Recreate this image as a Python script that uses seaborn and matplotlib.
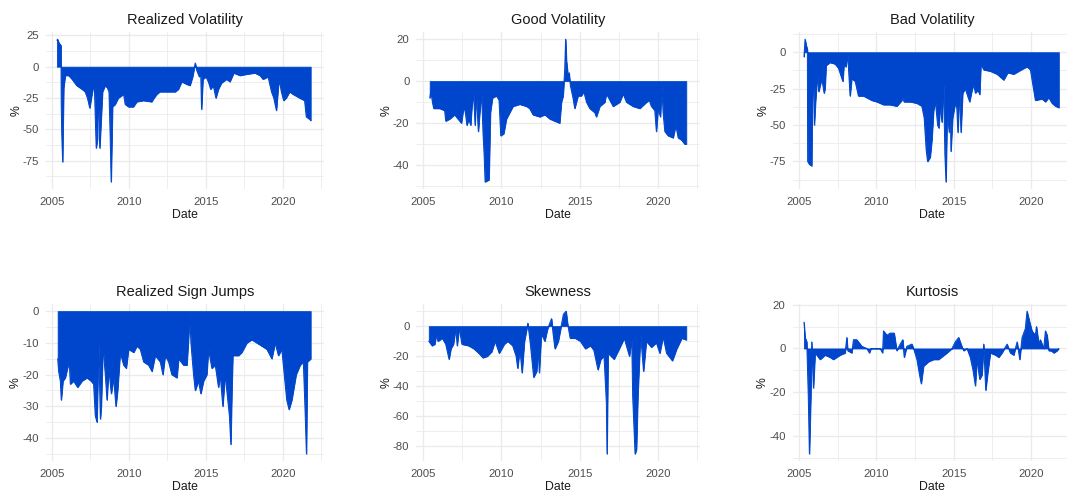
import matplotlib
matplotlib.use("Agg")
import matplotlib.pyplot as plt
import seaborn as sns
import numpy as np

# colours
fill_colour = '#0046CC'
grid_colour = '#EBEBEB'
text_colour = '#1A1A1A'
tick_colour = '#4D4D4D'

# ---- data (decimal year, %) ----
rv_date = [2005.32, 2005.36, 2005.45, 2005.58, 2005.60, 2005.63, 2005.69, 2005.72, 2005.76, 2005.86,
           2006.08, 2006.30, 2006.60, 2006.95, 2007.15, 2007.30, 2007.45, 2007.55, 2007.65, 2007.75,
           2007.87, 2007.95, 2007.97, 2008.10, 2008.18, 2008.28, 2008.45, 2008.60, 2008.70, 2008.78,
           2008.84, 2008.93, 2009.10, 2009.30, 2009.65, 2009.75, 2009.96, 2010.28, 2010.50, 2010.93,
           2011.47, 2011.62, 2011.80, 2012.00, 2012.45, 2013.00, 2013.20, 2013.42, 2013.74, 2013.96,
           2014.13, 2014.30, 2014.40, 2014.56, 2014.66, 2014.71, 2014.80, 2015.00, 2015.15, 2015.30,
           2015.47, 2015.64, 2015.80, 2016.00, 2016.33, 2016.55, 2016.80, 2017.20, 2017.63, 2018.17,
           2018.50, 2018.70, 2019.03, 2019.25, 2019.40, 2019.57, 2019.70, 2019.78, 2019.89, 2020.04,
           2020.20, 2020.43, 2020.65, 2021.08, 2021.40, 2021.51, 2021.73, 2021.80]
rv_val = [21, 22, 19, 17, -30, -52, -76, -48, -17, -7,
          -7, -10, -15, -18, -20, -25, -33, -25, -18, -15,
          -65, -58, -15, -65, -45, -20, -15, -17, -20, -57,
          -92, -32, -30, -25, -22, -30, -32, -32, -28, -27,
          -28, -25, -22, -20, -20, -20, -18, -12, -14, -15,
          -8, 3, -3, -8, -7, -34, -10, -8, -12, -18,
          -15, -25, -18, -13, -10, -12, -5, -7, -6, -5,
          -7, -10, -8, -20, -25, -35, -15, -12, -20, -27,
          -25, -20, -22, -25, -27, -40, -42, -43]

gv_date = [2005.43, 2005.50, 2005.60, 2005.68, 2006.06, 2006.38, 2006.45, 2006.70, 2007.02, 2007.23,
           2007.45, 2007.60, 2007.70, 2007.80, 2007.92, 2008.04, 2008.12, 2008.23, 2008.32, 2008.40,
           2008.53, 2008.62, 2008.74, 2008.83, 2008.90, 2008.96, 2009.21, 2009.30, 2009.43, 2009.68,
           2009.85, 2009.96, 2010.15, 2010.32, 2010.53, 2010.74, 2011.17, 2011.60, 2011.80, 2012.02,
           2012.45, 2012.77, 2013.09, 2013.40, 2013.72, 2013.83, 2013.94, 2014.04, 2014.10, 2014.15,
           2014.26, 2014.32, 2014.40, 2014.57, 2014.68, 2014.89, 2015.10, 2015.26, 2015.43, 2015.64,
           2015.96, 2016.06, 2016.28, 2016.60, 2016.70, 2017.13, 2017.55, 2017.77, 2017.98, 2018.40,
           2018.83, 2019.26, 2019.43, 2019.57, 2019.79, 2019.89, 2020.00, 2020.15, 2020.23, 2020.32,
           2020.43, 2020.64, 2020.96, 2021.13, 2021.28, 2021.49, 2021.70, 2021.80]
gv_val = [-8, -5, -10, -13, -13, -14, -19, -18, -16, -18,
          -20, -12, -15, -21, -18, -21, -12, -6, -21, -6,
          -24, -15, -6, -25, -35, -48, -47, -15, -8, -7,
          -9, -26, -25, -18, -15, -12, -11, -12, -13, -16,
          -17, -16, -18, -19, -20, -10, -7, 5, 20, 10,
          2, 4, -2, -8, -13, -7, -7, -5, -10, -13,
          -15, -17, -12, -10, -6, -12, -10, -6, -10, -12,
          -13, -10, -9, -12, -14, -24, -13, -17, -2, -15,
          -24, -26, -27, -21, -27, -28, -30, -30]

bv_date = [2005.32, 2005.39, 2005.46, 2005.54, 2005.56, 2005.67, 2005.82, 2005.86, 2005.93, 2005.99,
           2006.06, 2006.19, 2006.27, 2006.47, 2006.62, 2006.68, 2006.75, 2007.00, 2007.33, 2007.55,
           2007.83, 2007.91, 2008.03, 2008.15, 2008.30, 2008.41, 2008.63, 2008.84, 2009.17, 2009.70,
           2010.03, 2010.46, 2010.89, 2011.32, 2011.65, 2011.71, 2011.78, 2012.19, 2012.62, 2012.94,
           2013.09, 2013.22, 2013.31, 2013.48, 2013.59, 2013.70, 2013.82, 2013.96, 2014.04, 2014.13,
           2014.24, 2014.35, 2014.43, 2014.50, 2014.58, 2014.71, 2014.78, 2014.82, 2014.93, 2015.10,
           2015.20, 2015.27, 2015.38, 2015.47, 2015.58, 2015.75, 2015.90, 2016.03, 2016.18, 2016.29,
           2016.40, 2016.57, 2016.68, 2016.76, 2016.94, 2017.37, 2017.80, 2018.23, 2018.49, 2018.88,
           2019.20, 2019.53, 2019.74, 2019.96, 2020.11, 2020.28, 2020.71, 2020.93, 2021.14, 2021.36,
           2021.58, 2021.80]
bv_val = [-3, 9, 5, 2, -75, -77, -78, -33, -17, -50,
          -35, -15, -27, -18, -28, -25, -9, -7, -8, -11,
          -20, -8, -10, -2, -30, -18, -20, -30, -30, -33,
          -34, -36, -36, -37, -33, -28, -34, -34, -35, -37,
          -45, -67, -75, -72, -60, -40, -34, -50, -52, -36,
          -48, -22, -70, -89, -40, -55, -27, -68, -45, -35,
          -38, -55, -25, -55, -28, -25, -30, -34, -26, -22,
          -28, -26, -29, -8, -12, -13, -15, -19, -14, -15,
          -13, -11, -10, -12, -22, -33, -32, -34, -31, -35,
          -37, -38]

sj_date = [2005.37, 2005.43, 2005.54, 2005.60, 2005.71, 2005.86, 2006.00, 2006.12, 2006.19, 2006.40,
           2006.66, 2006.95, 2007.27, 2007.53, 2007.70, 2007.81, 2007.92, 2008.03, 2008.14, 2008.20,
           2008.31, 2008.46, 2008.57, 2008.68, 2008.85, 2009.00, 2009.15, 2009.26, 2009.43, 2009.65,
           2009.82, 2009.97, 2010.30, 2010.51, 2010.73, 2010.95, 2011.27, 2011.49, 2011.70, 2012.03,
           2012.20, 2012.35, 2012.57, 2012.78, 2013.11, 2013.22, 2013.54, 2013.76, 2013.86, 2013.95,
           2014.02, 2014.19, 2014.30, 2014.51, 2014.66, 2014.84, 2015.05, 2015.16, 2015.38, 2015.60,
           2015.81, 2015.92, 2016.09, 2016.24, 2016.52, 2016.61, 2016.68, 2016.74, 2017.11, 2017.32,
           2017.65, 2017.97, 2018.30, 2018.62, 2018.95, 2019.27, 2019.49, 2019.70, 2019.92, 2020.24,
           2020.39, 2020.57, 2020.85, 2021.11, 2021.32, 2021.43, 2021.52, 2021.58, 2021.80]
sj_val = [-15, -19, -22, -28, -22, -21, -18, -16, -23, -22,
          -24, -22, -21, -22, -23, -33, -35, -10, -34, -30,
          -11, -20, -28, -18, -26, -21, -30, -25, -13, -17,
          -18, -12, -13, -11, -12, -16, -17, -19, -14, -16,
          -20, -14, -16, -20, -21, -15, -17, -17, -9, -1,
          -10, -20, -25, -22, -26, -22, -20, -12, -18, -17,
          -24, -20, -30, -20, -33, -42, -25, -14, -14, -13,
          -10, -9, -10, -11, -12, -15, -10, -14, -12, -28,
          -31, -28, -20, -17, -16, -31, -45, -16, -15]

sk_date = [2005.37, 2005.58, 2005.75, 2005.86, 2005.95, 2006.23, 2006.45, 2006.66, 2006.78, 2006.94,
           2007.09, 2007.18, 2007.31, 2007.48, 2007.91, 2008.24, 2008.56, 2008.82, 2009.10, 2009.38,
           2009.60, 2009.86, 2010.18, 2010.40, 2010.72, 2010.94, 2011.04, 2011.18, 2011.32, 2011.47,
           2011.69, 2011.85, 2012.06, 2012.25, 2012.35, 2012.42, 2012.55, 2012.77, 2012.94, 2013.20,
           2013.30, 2013.42, 2013.63, 2013.96, 2014.13, 2014.22, 2014.39, 2014.71, 2015.04, 2015.36,
           2015.68, 2015.90, 2016.16, 2016.34, 2016.55, 2016.70, 2016.74, 2016.81, 2017.19, 2017.52,
           2017.84, 2018.17, 2018.32, 2018.38, 2018.53, 2018.62, 2018.71, 2018.88, 2019.07, 2019.25,
           2019.57, 2019.89, 2020.11, 2020.32, 2020.54, 2020.91, 2021.19, 2021.51, 2021.77, 2021.80]
sk_val = [-10, -13, -12, -5, -10, -8, -12, -22, -15, -12,
          -1, -13, -1, -12, -13, -15, -18, -21, -20, -17,
          -10, -18, -12, -10, -13, -20, -28, -15, -31, -10,
          2, -12, -34, -30, -15, -31, -5, -10, -2, 5,
          -5, -15, -10, 8, 10, 2, -8, -8, -10, -15,
          -13, -16, -29, -22, -20, -51, -85, -18, -22, -15,
          -8, -20, -9, -47, -85, -82, -46, -5, -30, -10,
          -14, -11, -18, -7, -18, -23, -15, -8, -9, -9]

ku_date = [2005.32, 2005.39, 2005.50, 2005.60, 2005.67, 2005.76, 2005.82, 2005.93, 2006.04, 2006.36,
           2006.68, 2007.00, 2007.22, 2007.65, 2007.98, 2008.09, 2008.15, 2008.41, 2008.52, 2008.73,
           2009.06, 2009.38, 2009.55, 2009.65, 2010.24, 2010.40, 2010.46, 2010.68, 2010.89, 2011.15,
           2011.32, 2011.54, 2011.71, 2011.80, 2011.97, 2012.30, 2012.45, 2012.62, 2012.79, 2012.90,
           2013.05, 2013.37, 2013.70, 2014.02, 2014.56, 2014.89, 2015.10, 2015.32, 2015.47, 2015.64,
           2015.86, 2016.07, 2016.25, 2016.40, 2016.50, 2016.68, 2016.83, 2016.94, 2017.07, 2017.20,
           2017.37, 2017.70, 2017.91, 2018.12, 2018.45, 2018.66, 2018.88, 2019.10, 2019.27, 2019.42,
           2019.63, 2019.74, 2019.91, 2020.06, 2020.28, 2020.35, 2020.50, 2020.60, 2020.82, 2020.93,
           2021.04, 2021.15, 2021.30, 2021.47, 2021.68, 2021.79]
ku_val = [12, 5, 3, -22, -48, -22, 3, -18, -2, -5,
          -3, -4, -5, -3, -2, 5, -1, -2, 4, 4,
          1, 0, -2, 0, 0, -2, 8, 6, 7, 7,
          -1, 2, 4, -4, 1, 2, -1, -5, -12, -16,
          -8, -6, -5, -5, -2, 0, 3, 5, 2, -1,
          0, -4, -10, -17, -5, -14, -12, 2, -19, -11,
          -2, -3, -4, -2, 2, -2, -3, 3, -5, 5,
          9, 17, 12, 8, 6, 10, 2, 4, 0, 8,
          6, -1, -1, -2, -1, 0]

titles = ['Realized Volatility', 'Good Volatility', 'Bad Volatility',
          'Realized Sign Jumps', 'Skewness', 'Kurtosis']
series = [(rv_date, rv_val), (gv_date, gv_val), (bv_date, bv_val),
          (sj_date, sj_val), (sk_date, sk_val), (ku_date, ku_val)]
yticks = [[25, 0, -25, -50, -75], [20, 0, -20, -40], [0, -25, -50, -75],
          [0, -10, -20, -30, -40], [0, -20, -40, -60, -80], [20, 0, -20, -40]]
xticks = [2005, 2010, 2015, 2020]

# ---- style ----
sns.set_theme(style="whitegrid")
plt.rcParams['font.family'] = ['Liberation Sans', 'DejaVu Sans']
plt.rcParams['axes.unicode_minus'] = False

W, H = 1067, 493
fig = plt.figure(figsize=(W / 100, H / 100), dpi=100)
fig.patch.set_facecolor('white')

# panel boxes in pixels: (left, width) per column, top per row
cols = [(45.5, 278.6), (416.4, 283.5), (792.5, 279.8)]
rows = [32, 304]
panel_h = 157

for i in range(6):
    r, c = divmod(i, 3)
    left, width = cols[c]
    top = rows[r]
    ax = fig.add_axes([left / W, 1 - (top + panel_h) / H, width / W, panel_h / H])
    x, y = series[i]
    ax.fill_between(x, y, 0, color=fill_colour, linewidth=0.6, edgecolor=fill_colour, zorder=2)
    sns.lineplot(x=x, y=y, ax=ax, color=fill_colour, linewidth=0.7, zorder=3)

    lo, hi = min(min(y), 0), max(max(y), 0)
    pad = (hi - lo) * 0.05

    ax.set_xticks(xticks)
    ax.set_xticklabels([str(t) for t in xticks])
    ax.set_yticks(yticks[i])
    ax.set_yticklabels([str(t) for t in yticks[i]])
    ax.set_xticks([2002.5, 2007.5, 2012.5, 2017.5, 2022.5], minor=True)
    ys = sorted(yticks[i])
    step = ys[1] - ys[0]
    ax.set_yticks([v + step / 2 for v in [ys[0] - step] + ys], minor=True)
    ax.set_xlim(2004.58, 2022.67)
    ax.set_ylim(lo - pad, hi + pad)

    ax.grid(which='major', color=grid_colour, linewidth=1.0, zorder=0)
    ax.grid(which='minor', color=grid_colour, linewidth=0.6, zorder=0)
    ax.set_axisbelow(True)
    for s in ax.spines.values():
        s.set_visible(False)
    ax.tick_params(axis='both', which='both', length=0, labelsize=8.2, labelcolor=tick_colour)
    ax.tick_params(axis='x', pad=5.5)
    ax.tick_params(axis='y', pad=5)

    ax.set_title(titles[i], fontsize=10.5, color=text_colour, pad=6)
    ax.set_xlabel('Date', fontsize=8.8, color=text_colour, labelpad=1.5)
    ax.set_ylabel('%', fontsize=8.8, color=text_colour, labelpad=0)

fig.savefig('out.png', dpi=100, facecolor='white')
